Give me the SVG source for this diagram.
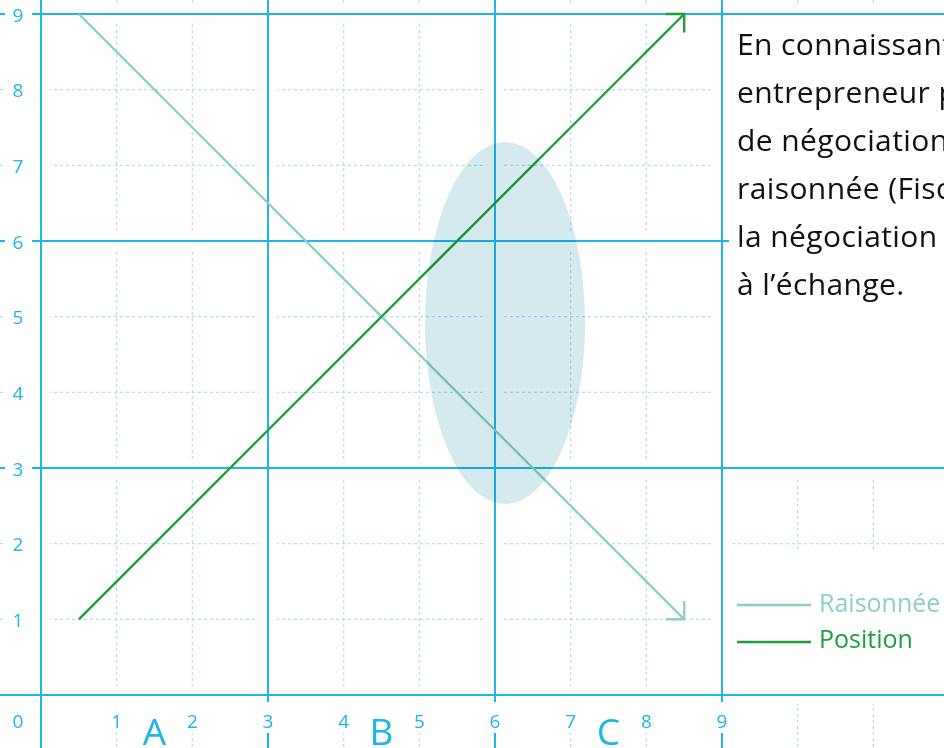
<svg xmlns="http://www.w3.org/2000/svg" width="944" height="748" viewBox="0 0 944 748">
  <style>
    .minor { stroke: #aee0f6; stroke-width: 1.2; stroke-dasharray: 3 3; fill: none; }
    .halo { stroke: #ffffff; stroke-width: 18; fill: none; }
    .major { stroke: #1eb6e8; stroke-width: 2; fill: none; }
    .num { font-family: "Open Sans", "Liberation Sans", sans-serif; font-size: 19px; fill: #1eb6e8; text-anchor: middle; }
    .big { font-family: "Open Sans", "Liberation Sans", sans-serif; font-size: 37px; fill: #1eb6e8; text-anchor: middle; }
    .box { fill: #ffffff; }
    .body { font-family: "Open Sans", "Liberation Sans", sans-serif; font-size: 30px; letter-spacing: 0.4px; fill: #111111; }
    .leg { font-family: "Open Sans", "Liberation Sans", sans-serif; font-size: 25px; }
    .rais { stroke: #8ecfc1; stroke-width: 2.4; fill: none; }
    .pos { stroke: #1c9f3c; stroke-width: 2.4; fill: none; }
  </style>
  <defs>
    <marker id="arrR" markerUnits="userSpaceOnUse" markerWidth="30" markerHeight="30" viewBox="-15 -15 30 30" refX="0" refY="0" orient="auto">
      <path d="M-13,-13 L0,0 L-13,13" stroke="#8ecfc1" stroke-width="2.4" fill="none"/>
    </marker>
    <marker id="arrP" markerUnits="userSpaceOnUse" markerWidth="30" markerHeight="30" viewBox="-15 -15 30 30" refX="0" refY="0" orient="auto">
      <path d="M-13,-13 L0,0 L-13,13" stroke="#1c9f3c" stroke-width="2.4" fill="none"/>
    </marker>
  </defs>
  <rect width="944" height="748" fill="#ffffff"/>

  <g id="grid">
    <g id="minor-lines">
      <line class="minor" x1="0" y1="89.67" x2="944" y2="89.67"/>
      <line class="minor" x1="0" y1="165.33" x2="944" y2="165.33"/>
      <line class="minor" x1="0" y1="316.67" x2="944" y2="316.67"/>
      <line class="minor" x1="0" y1="392.33" x2="944" y2="392.33"/>
      <line class="minor" x1="0" y1="543.67" x2="944" y2="543.67"/>
      <line class="minor" x1="0" y1="619.33" x2="944" y2="619.33"/>
      <line class="minor" x1="116.67" y1="0" x2="116.67" y2="748"/>
      <line class="minor" x1="192.33" y1="0" x2="192.33" y2="748"/>
      <line class="minor" x1="343.67" y1="0" x2="343.67" y2="748"/>
      <line class="minor" x1="419.33" y1="0" x2="419.33" y2="748"/>
      <line class="minor" x1="570.67" y1="0" x2="570.67" y2="748"/>
      <line class="minor" x1="646.33" y1="0" x2="646.33" y2="748"/>
      <line class="minor" x1="797.67" y1="0" x2="797.67" y2="748"/>
      <line class="minor" x1="873.33" y1="0" x2="873.33" y2="748"/>
    </g>
    <g id="halos">
      <line class="halo" x1="41" y1="0" x2="41" y2="748"/>
      <line class="halo" x1="268" y1="0" x2="268" y2="748"/>
      <line class="halo" x1="495" y1="0" x2="495" y2="748"/>
      <line class="halo" x1="722" y1="0" x2="722" y2="748"/>
      <line class="halo" x1="0" y1="14" x2="944" y2="14"/>
      <line class="halo" x1="0" y1="241" x2="944" y2="241"/>
      <line class="halo" x1="0" y1="468" x2="944" y2="468"/>
      <line class="halo" x1="0" y1="695" x2="944" y2="695"/>
    </g>
    <g id="major-lines">
      <line class="major" x1="41" y1="0" x2="41" y2="748"/>
      <line class="major" x1="268" y1="0" x2="268" y2="748"/>
      <line class="major" x1="495" y1="0" x2="495" y2="748"/>
      <line class="major" x1="722" y1="0" x2="722" y2="748"/>
      <line class="major" x1="0" y1="14" x2="944" y2="14"/>
      <line class="major" x1="0" y1="241" x2="944" y2="241"/>
      <line class="major" x1="0" y1="468" x2="944" y2="468"/>
      <line class="major" x1="0" y1="695" x2="944" y2="695"/>
    </g>
  </g>

  <g id="connectors">
    <line id="raisonnee" class="rais" x1="78.8" y1="14" x2="684.2" y2="619.3" marker-end="url(#arrR)"/>
    <line id="position" class="pos" x1="78.8" y1="619.3" x2="684.2" y2="14" marker-end="url(#arrP)"/>
  </g>

  <g id="zone">
    <ellipse cx="505" cy="323" rx="80" ry="181" fill="#d4eaee" style="mix-blend-mode:multiply"/>
  </g>

  <g id="axis-labels">
    <rect class="box" x="5" y="4" width="27" height="21"/>
    <rect class="box" x="5" y="79.67" width="27" height="21"/>
    <rect class="box" x="5" y="155.33" width="27" height="21"/>
    <rect class="box" x="5" y="231" width="27" height="21"/>
    <rect class="box" x="5" y="306.67" width="27" height="21"/>
    <rect class="box" x="5" y="382.33" width="27" height="21"/>
    <rect class="box" x="5" y="458" width="27" height="21"/>
    <rect class="box" x="5" y="533.67" width="27" height="21"/>
    <rect class="box" x="5" y="609.33" width="27" height="21"/>
    <text class="num" x="18" y="21.5">9</text>
    <text class="num" x="18" y="97.17">8</text>
    <text class="num" x="18" y="172.83">7</text>
    <text class="num" x="18" y="248.5">6</text>
    <text class="num" x="18" y="324.17">5</text>
    <text class="num" x="18" y="399.83">4</text>
    <text class="num" x="18" y="475.5">3</text>
    <text class="num" x="18" y="551.17">2</text>
    <text class="num" x="18" y="626.83">1</text>

    <rect class="box" x="107.67" y="702" width="18" height="31"/>
    <rect class="box" x="183.33" y="702" width="18" height="31"/>
    <rect class="box" x="259" y="702" width="18" height="31"/>
    <rect class="box" x="334.67" y="702" width="18" height="31"/>
    <rect class="box" x="410.33" y="702" width="18" height="31"/>
    <rect class="box" x="486" y="702" width="18" height="31"/>
    <rect class="box" x="561.67" y="702" width="18" height="31"/>
    <rect class="box" x="637.33" y="702" width="18" height="31"/>
    <rect class="box" x="713" y="702" width="18" height="31"/>
    <text class="num" x="18" y="727.5">0</text>
    <text class="num" x="116.67" y="727.5">1</text>
    <text class="num" x="192.33" y="727.5">2</text>
    <text class="num" x="268" y="727.5">3</text>
    <text class="num" x="343.67" y="727.5">4</text>
    <text class="num" x="419.33" y="727.5">5</text>
    <text class="num" x="495" y="727.5">6</text>
    <text class="num" x="570.67" y="727.5">7</text>
    <text class="num" x="646.33" y="727.5">8</text>
    <text class="num" x="722" y="727.5">9</text>

    <text class="big" x="154.5" y="745">A</text>
    <text class="big" x="381.5" y="745">B</text>
    <text class="big" x="608.5" y="745">C</text>
  </g>

  <g id="textbox">
    <rect class="box" x="729" y="22" width="215" height="440"/>
    <text class="body" x="737" y="55">En connaissant</text>
    <text class="body" x="737" y="103">entrepreneur p</text>
    <text class="body" x="737" y="151">de négociation</text>
    <text class="body" x="737" y="199">raisonnée (Fisc</text>
    <text class="body" x="737" y="247">la négociation</text>
    <text class="body" x="737" y="295">à l’échange.</text>
  </g>

  <g id="legend">
    <rect class="box" x="729" y="549" width="215" height="141"/>
    <line class="rais" x1="737" y1="605" x2="811" y2="605"/>
    <text class="leg" x="819" y="612" fill="#8ecfc1">Raisonnée</text>
    <line class="pos" x1="737" y1="642" x2="811" y2="642"/>
    <text class="leg" x="819" y="648" fill="#1c9f3c">Position</text>
  </g>
</svg>
